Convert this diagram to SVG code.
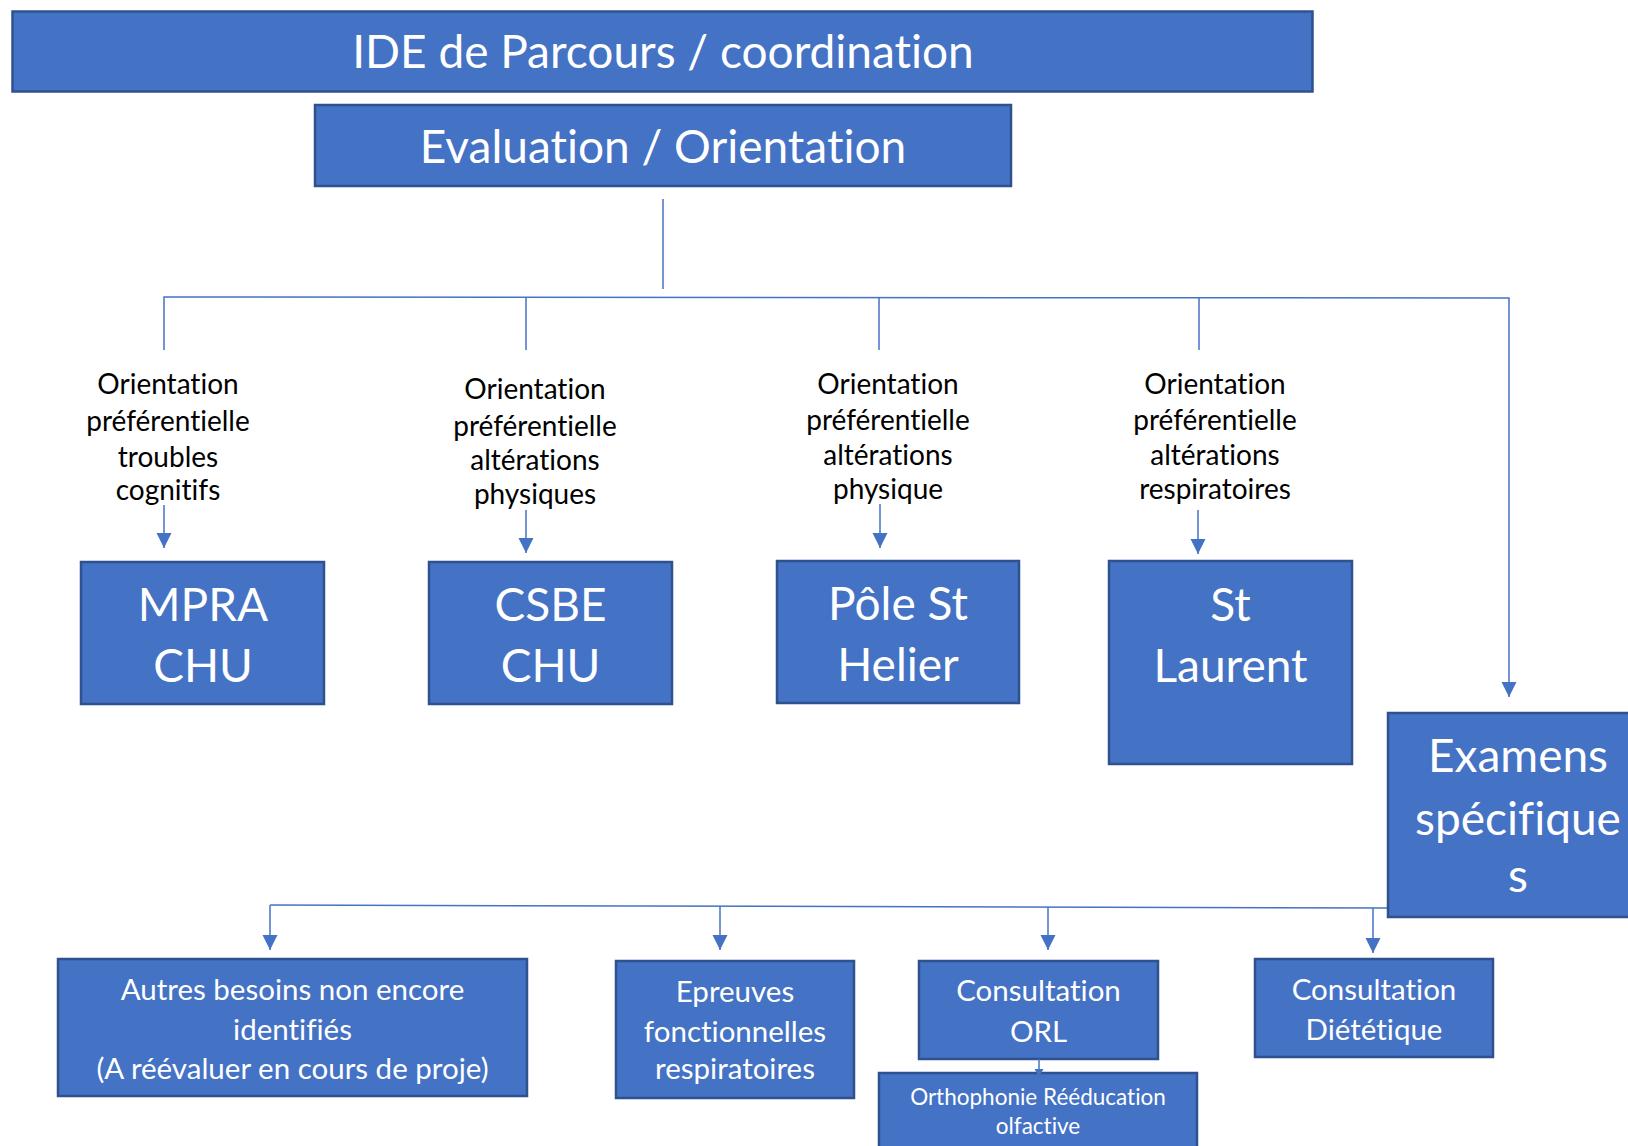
<svg xmlns="http://www.w3.org/2000/svg" width="1628" height="1146" viewBox="0 0 1628 1146">
<style>
.box{fill:#4472C4;stroke:#2F528F;stroke-width:2.5}
.t{font-family:Lato,"Liberation Sans",sans-serif;fill:#ffffff;text-anchor:middle;font-variant-ligatures:none}
.lbl{font-family:Lato,"Liberation Sans",sans-serif;fill:#000000;text-anchor:middle;font-size:28px;font-variant-ligatures:none}
.big{font-size:46px}
.head{font-size:46px}
.mid{font-size:29.5px}
.small{font-size:22.5px}
.c{fill:none;stroke:#4472C4;stroke-width:1.5}
</style>
<defs>
<marker id="ah" markerUnits="userSpaceOnUse" markerWidth="16" markerHeight="16" refX="15" refY="7.5" orient="auto">
<path d="M0,0 L15,7.5 L0,15 z" fill="#4472C4"/>
</marker>
<marker id="ahs" markerUnits="userSpaceOnUse" markerWidth="10" markerHeight="10" refX="8" refY="4.5" orient="auto">
<path d="M0,0 L8,4.5 L0,9 z" fill="#4472C4"/>
</marker>
</defs>
<rect width="1628" height="1146" fill="#ffffff"/>

<g id="connectors">
<line class="c" x1="663" y1="199" x2="663" y2="289"/>
<polyline class="c" points="164,350 164,297 1509,298 1509,697" marker-end="url(#ah)"/>
<line class="c" x1="526" y1="297" x2="526" y2="350"/>
<line class="c" x1="879" y1="297" x2="879" y2="350"/>
<line class="c" x1="1199" y1="298" x2="1199" y2="350"/>
<line class="c" x1="164" y1="505" x2="164" y2="548" marker-end="url(#ah)"/>
<line class="c" x1="526" y1="510" x2="526" y2="553" marker-end="url(#ah)"/>
<line class="c" x1="880" y1="504" x2="880" y2="548" marker-end="url(#ah)"/>
<line class="c" x1="1198" y1="510" x2="1198" y2="554" marker-end="url(#ah)"/>
<line class="c" x1="270" y1="905" x2="1388" y2="908"/>
<line class="c" x1="270" y1="905" x2="270" y2="950" marker-end="url(#ah)"/>
<line class="c" x1="720" y1="906" x2="720" y2="950" marker-end="url(#ah)"/>
<line class="c" x1="1048" y1="907" x2="1048" y2="950" marker-end="url(#ah)"/>
<line class="c" x1="1373" y1="908" x2="1373" y2="953" marker-end="url(#ah)"/>
</g>

<g id="n-ide">
<rect class="box" x="12.5" y="11.5" width="1300" height="80"/>
<text class="t head" x="663" y="68">IDE de Parcours / coordination</text>
</g>
<g id="n-eval">
<rect class="box" x="315" y="105" width="696" height="81"/>
<text class="t head" x="663" y="163">Evaluation / Orientation</text>
</g>

<g id="l-1">
<text class="lbl" x="168" y="394">Orientation</text>
<text class="lbl" x="168" y="431">préférentielle</text>
<text class="lbl" x="168" y="467">troubles</text>
<text class="lbl" x="168" y="500">cognitifs</text>
</g>
<g id="l-2">
<text class="lbl" x="535" y="399">Orientation</text>
<text class="lbl" x="535" y="436">préférentielle</text>
<text class="lbl" x="535" y="470">altérations</text>
<text class="lbl" x="535" y="504">physiques</text>
</g>
<g id="l-3">
<text class="lbl" x="888" y="394">Orientation</text>
<text class="lbl" x="888" y="430">préférentielle</text>
<text class="lbl" x="888" y="465">altérations</text>
<text class="lbl" x="888" y="499">physique</text>
</g>
<g id="l-4">
<text class="lbl" x="1215" y="394">Orientation</text>
<text class="lbl" x="1215" y="430">préférentielle</text>
<text class="lbl" x="1215" y="465">altérations</text>
<text class="lbl" x="1215" y="499">respiratoires</text>
</g>

<g id="n-mpra">
<rect class="box" x="81" y="562" width="243" height="142"/>
<text class="t big" x="203" y="621">MPRA</text>
<text class="t big" x="203" y="682">CHU</text>
</g>
<g id="n-csbe">
<rect class="box" x="429" y="562" width="243" height="142"/>
<text class="t big" x="550.5" y="621">CSBE</text>
<text class="t big" x="550.5" y="682">CHU</text>
</g>
<g id="n-pole">
<rect class="box" x="777" y="561" width="242" height="142"/>
<text class="t big" x="898" y="620">Pôle St</text>
<text class="t big" x="898" y="681">Helier</text>
</g>
<g id="n-laurent">
<rect class="box" x="1109" y="561" width="243" height="203"/>
<text class="t big" x="1230.5" y="621">St</text>
<text class="t big" x="1230.5" y="682">Laurent</text>
</g>
<g id="n-examens">
<rect class="box" x="1388" y="713" width="260" height="204"/>
<text class="t big" x="1518" y="772">Examens</text>
<text class="t big" x="1518" y="835">spécifique</text>
<text class="t big" x="1518" y="892">s</text>
</g>

<g id="n-autres">
<rect class="box" x="58" y="959" width="469" height="137"/>
<text class="t mid" x="292.5" y="1000">Autres besoins non encore</text>
<text class="t mid" x="292.5" y="1040">identifiés</text>
<text class="t mid" x="292.5" y="1079">(A réévaluer en cours de proje)</text>
</g>
<g id="n-epreuves">
<rect class="box" x="616" y="961" width="238" height="137"/>
<text class="t mid" x="735" y="1002">Epreuves</text>
<text class="t mid" x="735" y="1042">fonctionnelles</text>
<text class="t mid" x="735" y="1079">respiratoires</text>
</g>
<g id="n-orl">
<rect class="box" x="919" y="961" width="239" height="98"/>
<text class="t mid" x="1038.5" y="1001">Consultation</text>
<text class="t mid" x="1038.5" y="1042">ORL</text>
</g>
<g id="n-ortho">
<rect class="box" x="879" y="1073" width="318" height="90"/>
<text class="t small" x="1038" y="1105">Orthophonie Rééducation</text>
<text class="t small" x="1038" y="1134">olfactive</text>
</g>
<g id="n-diet">
<rect class="box" x="1255" y="959" width="238" height="98"/>
<text class="t mid" x="1374" y="1000">Consultation</text>
<text class="t mid" x="1374" y="1040">Diététique</text>
</g>
<g id="connector-ortho">
<line class="c" x1="1039" y1="1059" x2="1039" y2="1077" marker-end="url(#ahs)"/>
</g>
</svg>
